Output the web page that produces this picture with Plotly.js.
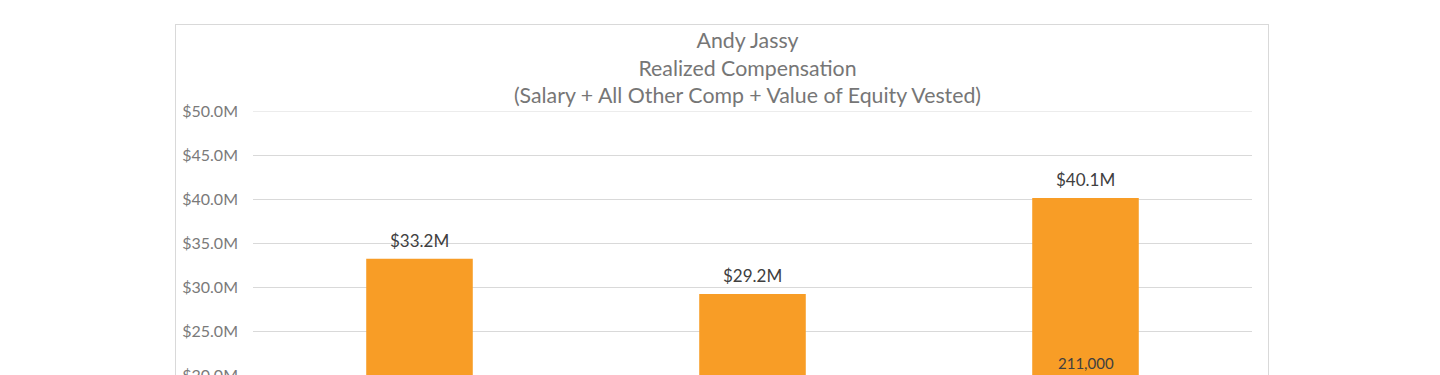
<!DOCTYPE html>
<html><head><meta charset="utf-8">
<script src="https://cdn.plot.ly/plotly-3.0.1.min.js"></script>
<style>
html,body{margin:0;padding:0;background:#fff;overflow:hidden;}
#frame{position:absolute;left:175px;top:24px;width:1094px;height:700px;border:1px solid #d9d9d9;box-sizing:border-box;}
#chart{position:absolute;left:0;top:0;width:1440px;height:640px;}
</style></head>
<body>
<div id="frame"></div>
<div id="chart"></div>
<script>
const categories = ['2021', '2022', '2023'];
const realizedCompM = [33.2, 29.2, 40.1];
const valueLabels = ['$33.2M', '$29.2M', '$40.1M'];
const innerLabels = ['', '', '211,000'];
const innerLabelY = [21.4, 21.4, 21.4];
const yTicks = [0, 5, 10, 15, 20, 25, 30, 35, 40, 45, 50];
const yTickText = ['$0.0M', '$5.0M', '$10.0M', '$15.0M', '$20.0M', '$25.0M', '$30.0M', '$35.0M', '$40.0M', '$45.0M', '$50.0M'];

const font = 'Lato, "Open Sans", sans-serif';
const xs = categories.map((c, i) => i);
const annotations = [];
xs.forEach((x, i) => {
  annotations.push({x: x, y: realizedCompM[i], xref: 'x', yref: 'y', text: valueLabels[i], showarrow: false,
    yanchor: 'bottom', yshift: 6, font: {family: font, size: 17, color: '#404040'}});
  if (innerLabels[i]) annotations.push({x: x, y: innerLabelY[i], xref: 'x', yref: 'y', text: innerLabels[i], showarrow: false,
    yanchor: 'middle', font: {family: font, size: 15, color: '#404040'}});
});

Plotly.newPlot('chart', [{
  type: 'bar', x: xs, y: realizedCompM,
  marker: {color: '#F89D26', line: {width: 0}}, width: 0.32, hoverinfo: 'skip'
}], {
  width: 1440, height: 640,
  margin: {l: 253, r: 188, t: 111, b: 89},
  paper_bgcolor: 'rgba(0,0,0,0)', plot_bgcolor: 'rgba(0,0,0,0)',
  showlegend: false,
  title: {text: 'Andy Jassy<br>Realized Compensation<br>(Salary + All Other Comp + Value of Equity Vested)',
    font: {family: font, size: 21.3, color: '#767676'}, x: 0.495, xref: 'paper', xanchor: 'center',
    yref: 'container', y: 1 - 48/640, yanchor: 'top'},
  xaxis: {range: [-0.5, 2.5], tickvals: xs, ticktext: categories, showticklabels: false,
    showgrid: false, zeroline: false, showline: true, linecolor: '#d9d9d9', ticks: ''},
  yaxis: {range: [0, 50], tickvals: yTicks, ticktext: yTickText,
    showgrid: true, gridcolor: '#d9d9d9', gridwidth: 1, zeroline: false, showline: false,
    ticklabelstandoff: 14,
    tickfont: {family: font, size: 16, color: '#7a7a7a'}},
  shapes: [{type: 'line', xref: 'paper', x0: 0, x1: 1, yref: 'y', y0: 50, y1: 50,
    line: {color: '#d9d9d9', width: 1}, layer: 'below'}],
  annotations: annotations
}, {staticPlot: true});
</script>
</body></html>
